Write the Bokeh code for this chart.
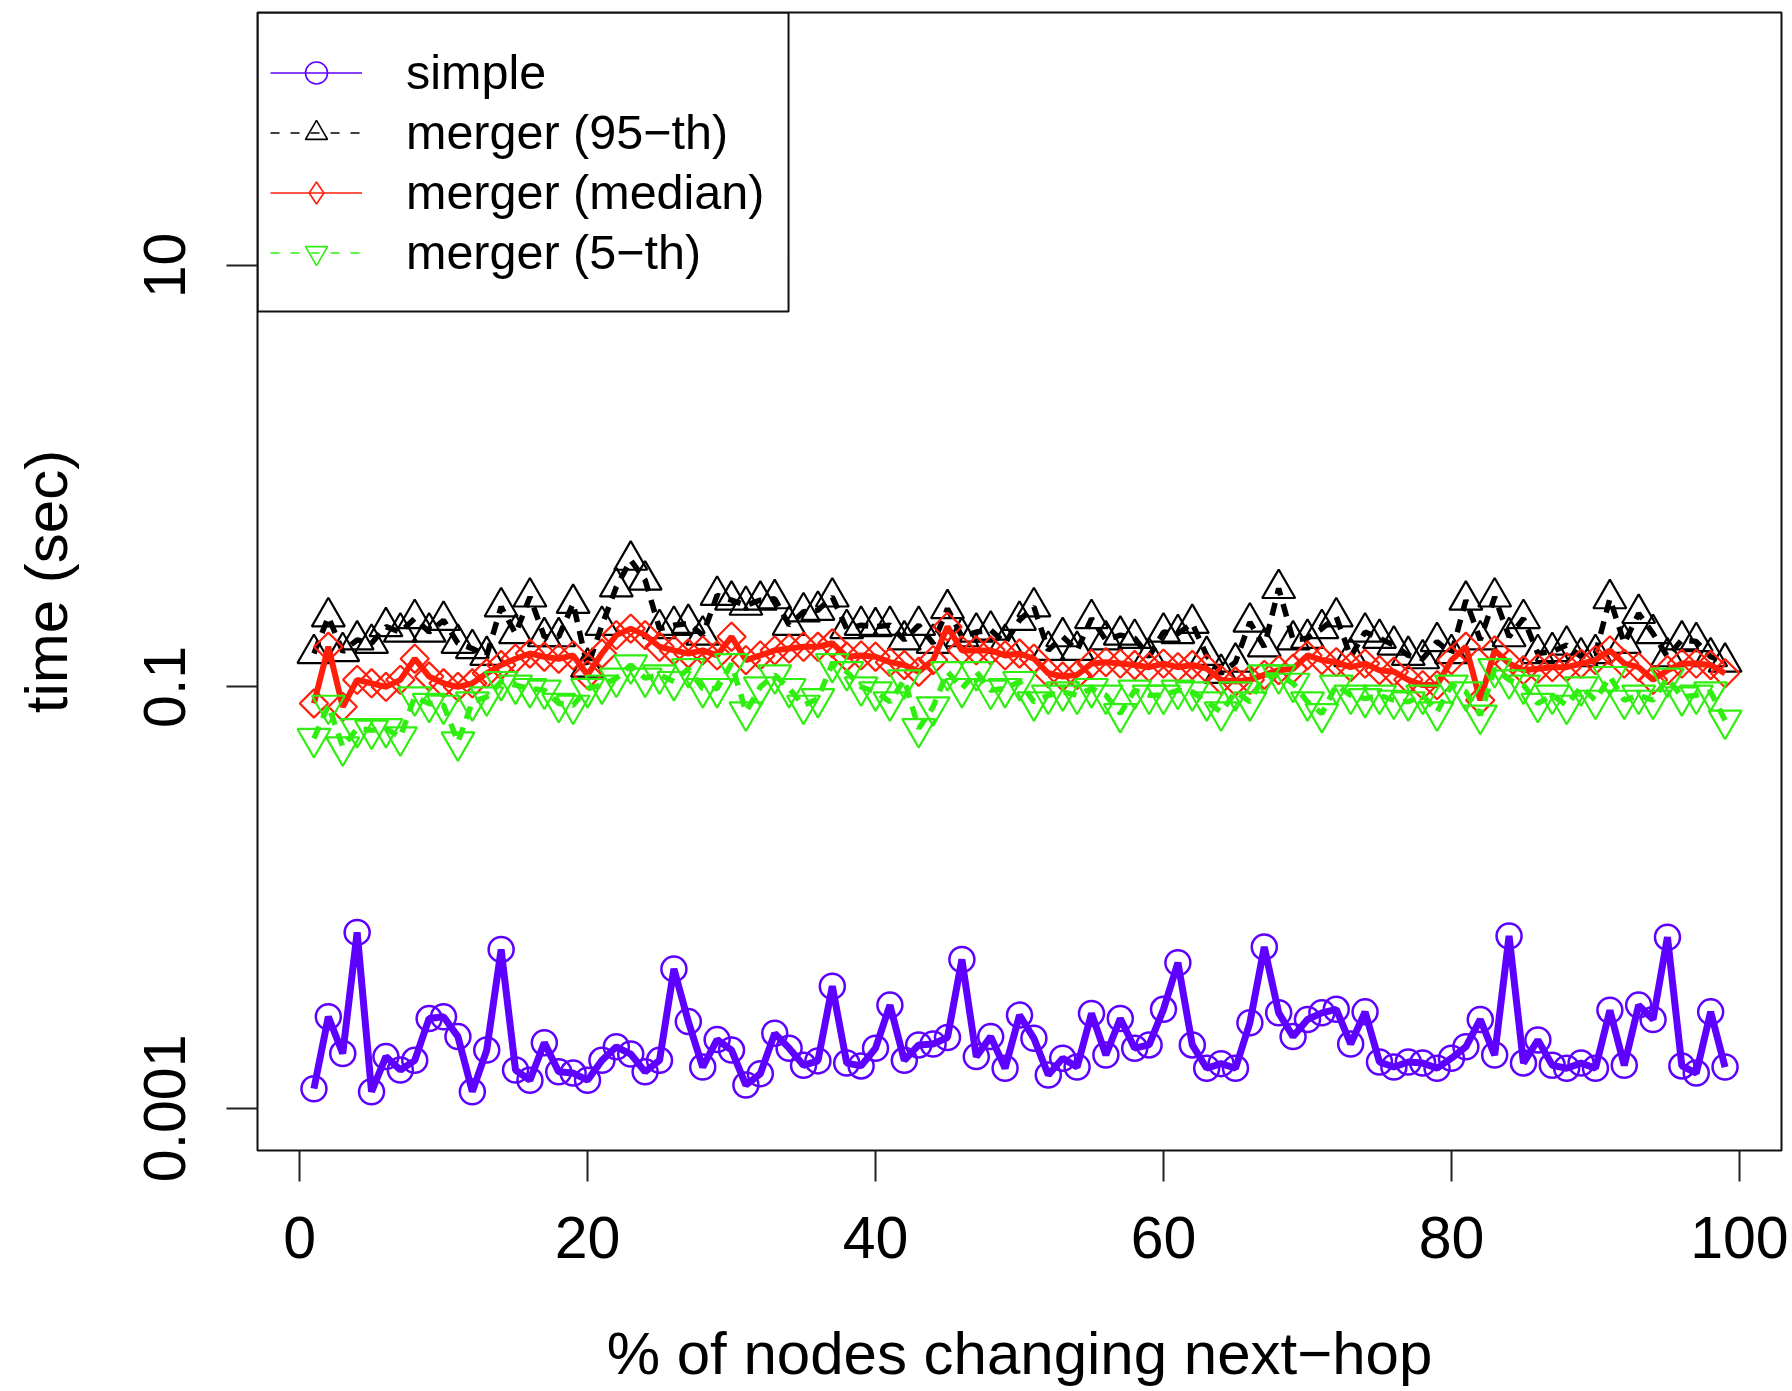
from bokeh.plotting import figure
from bokeh.models import (Range1d, FixedTicker, CustomJSTickFormatter, Legend,
                          LegendItem, BoxAnnotation, ColumnDataSource)
from bokeh.embed import file_html
from bokeh.resources import INLINE

# ---------------- data (seconds) ----------------
pct = list(range(1, 100))

simple = [0.00124, 0.00272, 0.00182, 0.00684, 0.00120, 0.00176, 0.00152, 0.00169, 0.00267, 0.00272,
          0.00219, 0.00120, 0.00189, 0.00568, 0.00152, 0.00136, 0.00205, 0.00149, 0.00147, 0.00136,
          0.00169, 0.00196, 0.00181, 0.00149, 0.00169, 0.00459, 0.00258, 0.00157, 0.00212, 0.00189,
          0.00129, 0.00146, 0.00227, 0.00193, 0.00160, 0.00168, 0.00380, 0.00164, 0.00159, 0.00193,
          0.00309, 0.00169, 0.00200, 0.00202, 0.00217, 0.00509, 0.00176, 0.00219, 0.00155, 0.00277,
          0.00215, 0.00144, 0.00173, 0.00157, 0.00282, 0.00179, 0.00267, 0.00193, 0.00200, 0.00295,
          0.00491, 0.00200, 0.00155, 0.00163, 0.00155, 0.00255, 0.00583, 0.00284, 0.00219, 0.00264,
          0.00284, 0.00295, 0.00202, 0.00287, 0.00166, 0.00157, 0.00166, 0.00164, 0.00155, 0.00173,
          0.00196, 0.00264, 0.00179, 0.00658, 0.00164, 0.00211, 0.00160, 0.00155, 0.00164, 0.00155,
          0.00292, 0.00160, 0.00309, 0.00264, 0.00649, 0.00159, 0.00147, 0.00287, 0.00157]

merger_p95 = [0.144, 0.215, 0.147, 0.167, 0.161, 0.193, 0.182, 0.211, 0.182, 0.207,
              0.161, 0.152, 0.141, 0.240, 0.179, 0.267, 0.173, 0.173, 0.249, 0.124,
              0.196, 0.298, 0.399, 0.321, 0.189, 0.196, 0.200, 0.176, 0.272, 0.258,
              0.244, 0.258, 0.262, 0.196, 0.227, 0.231, 0.267, 0.189, 0.196, 0.193,
              0.196, 0.167, 0.196, 0.161, 0.235, 0.173, 0.182, 0.186, 0.161, 0.207,
              0.240, 0.149, 0.173, 0.149, 0.211, 0.167, 0.176, 0.170, 0.139, 0.182,
              0.179, 0.200, 0.141, 0.116, 0.131, 0.203, 0.155, 0.293, 0.167, 0.170,
              0.189, 0.215, 0.139, 0.182, 0.170, 0.158, 0.141, 0.136, 0.164, 0.144,
              0.258, 0.167, 0.267, 0.173, 0.211, 0.144, 0.147, 0.158, 0.139, 0.144,
              0.262, 0.161, 0.223, 0.179, 0.139, 0.167, 0.164, 0.139, 0.131]

merger_median = [0.0834, 0.155, 0.0804, 0.108, 0.104, 0.100, 0.108, 0.136, 0.112, 0.104,
                 0.100, 0.104, 0.116, 0.127, 0.136, 0.144, 0.139, 0.136, 0.141, 0.114,
                 0.144, 0.176, 0.189, 0.176, 0.155, 0.149, 0.144, 0.149, 0.141, 0.173,
                 0.134, 0.141, 0.149, 0.152, 0.155, 0.155, 0.161, 0.139, 0.141, 0.139,
                 0.131, 0.127, 0.118, 0.134, 0.193, 0.149, 0.149, 0.149, 0.141, 0.144,
                 0.136, 0.116, 0.112, 0.114, 0.129, 0.131, 0.129, 0.127, 0.124, 0.129,
                 0.124, 0.127, 0.122, 0.108, 0.106, 0.108, 0.114, 0.120, 0.122, 0.141,
                 0.134, 0.131, 0.124, 0.129, 0.120, 0.118, 0.108, 0.102, 0.102, 0.134,
                 0.155, 0.0864, 0.149, 0.129, 0.120, 0.122, 0.124, 0.124, 0.129, 0.134,
                 0.149, 0.129, 0.124, 0.108, 0.120, 0.129, 0.129, 0.127, 0.116]

merger_p5 = [0.0569, 0.0818, 0.0519, 0.0634, 0.0623, 0.0634, 0.0579, 0.0897, 0.0834, 0.0818,
             0.0548, 0.0849, 0.0897, 0.106, 0.102, 0.0982, 0.0964, 0.0834, 0.0818, 0.0982,
             0.102, 0.110, 0.127, 0.110, 0.114, 0.106, 0.122, 0.0982, 0.0982, 0.129,
             0.0761, 0.100, 0.114, 0.0982, 0.0818, 0.0880, 0.129, 0.118, 0.100, 0.0947,
             0.0849, 0.108, 0.0634, 0.0804, 0.118, 0.0982, 0.118, 0.0964, 0.0982, 0.106,
             0.0849, 0.0913, 0.0947, 0.0913, 0.0982, 0.0913, 0.0747, 0.0964, 0.0913, 0.0913,
             0.0964, 0.0947, 0.0849, 0.0761, 0.0947, 0.0849, 0.114, 0.114, 0.104, 0.0849,
             0.0747, 0.102, 0.0913, 0.0880, 0.0913, 0.0864, 0.0849, 0.0913, 0.0761, 0.102,
             0.0947, 0.0734, 0.122, 0.108, 0.102, 0.0834, 0.0913, 0.0818, 0.100, 0.0864,
             0.112, 0.0864, 0.0913, 0.0864, 0.110, 0.0897, 0.0913, 0.0947, 0.0695]

x_ticks = [0, 20, 40, 60, 80, 100]
y_ticks = [0.001, 0.1, 10]

series_labels = ["simple", "merger (95\u2212th)", "merger (median)", "merger (5\u2212th)"]
x_title = "% of nodes changing next\u2212hop"
y_title = "time (sec)"

# ---------------- styling ----------------
PURPLE = "#5E00FF"
BLACK = "#000000"
RED = "#FF1E0A"
GREEN = "#2FEE10"
FONT = "Liberation Sans"
NAN = float("nan")

p = figure(width=1790, height=1390,
           x_range=Range1d(-2.92, 102.92), y_range=Range1d(6.31e-4, 158.5),
           y_axis_type="log", output_backend="svg", toolbar_location=None,
           min_border_left=257, min_border_top=12, min_border_right=9, min_border_bottom=240)

p.xgrid.visible = False
p.ygrid.visible = False
p.background_fill_color = "white"
p.border_fill_color = "white"
p.outline_line_color = "#111111"
p.outline_line_width = 2

for ax in (p.xaxis[0], p.yaxis[0]):
    ax.axis_line_color = None
    ax.major_tick_in = 0
    ax.major_tick_out = 31
    ax.major_tick_line_width = 2
    ax.major_tick_line_color = "#222222"
    ax.minor_tick_line_color = None
    ax.major_label_text_font = FONT
    ax.major_label_text_font_size = "59px"
    ax.major_label_text_color = "black"
    ax.axis_label_text_font = FONT
    ax.axis_label_text_font_size = "60px"
    ax.axis_label_text_font_style = "normal"
    ax.axis_label_text_color = "black"

p.xaxis.ticker = FixedTicker(ticks=x_ticks)
p.yaxis.ticker = FixedTicker(ticks=y_ticks)
p.yaxis.formatter = CustomJSTickFormatter(code="return tick.toString()")
p.yaxis.major_label_orientation = "vertical"
p.xaxis.axis_label = x_title
p.yaxis.axis_label = y_title
p.xaxis.major_label_standoff = 35
p.yaxis.major_label_standoff = 41
p.xaxis.axis_label_standoff = 59
p.yaxis.axis_label_standoff = 62

src = ColumnDataSource(dict(x=pct, simple=simple, p95=merger_p95,
                            median=merger_median, p5=merger_p5))

# simple
p.line("x", "simple", source=src, line_color=PURPLE, line_width=7)
p.scatter("x", "simple", source=src, marker="circle", size=25,
          fill_color=None, line_color=PURPLE, line_width=2.5)
# 95th
p.line("x", "p95", source=src, line_color=BLACK, line_width=5.5, line_dash="13 9")
p.scatter("x", "p95", source=src, marker="triangle", size=33,
          fill_color=None, line_color=BLACK, line_width=2.2)
# median
p.line("x", "median", source=src, line_color=RED, line_width=6)
p.scatter("x", "median", source=src, marker="square", angle=0.7853981634, size=20,
          fill_color=None, line_color=RED, line_width=2.2)
# 5th
p.line("x", "p5", source=src, line_color=GREEN, line_width=5.5, line_dash="13 9")
p.scatter("x", "p5", source=src, marker="inverted_triangle", size=33,
          fill_color=None, line_color=GREEN, line_width=2.2)

# ---------------- legend ----------------
leg = ColumnDataSource(dict(x=[NAN], y=[NAN]))
specs = [(PURPLE, "solid", "circle"),
         (BLACK, "9 11", "triangle"),
         (RED, "solid", "diamond"),
         (GREEN, "9 11", "inverted_triangle")]
items = []
for lab, (col, dash, mk) in zip(series_labels, specs):
    lr = p.line("x", "y", source=leg, line_color=col, line_width=1.6, line_dash=dash)
    mr = p.scatter("x", "y", source=leg, marker=mk, fill_color=None,
                   line_color=col, line_width=1.6)
    items.append(LegendItem(label=lab, renderers=[lr, mr]))

legend = Legend(items=items, location=(13, 868), border_line_color=None,
                background_fill_alpha=0, padding=0, margin=0, spacing=0,
                glyph_width=92, glyph_height=55, label_height=60, label_standoff=44,
                label_text_font=FONT, label_text_font_size="48.5px",
                label_text_color="black", label_text_baseline="middle")
p.add_layout(legend)

legend_box = BoxAnnotation(left=-2.92, right=33.96, top=158.5, bottom=6.05,
                           fill_alpha=0, line_color="#111111", line_alpha=1.0,
                           line_width=2)
p.add_layout(legend_box)

open("out.html", "w").write(file_html(p, INLINE))
